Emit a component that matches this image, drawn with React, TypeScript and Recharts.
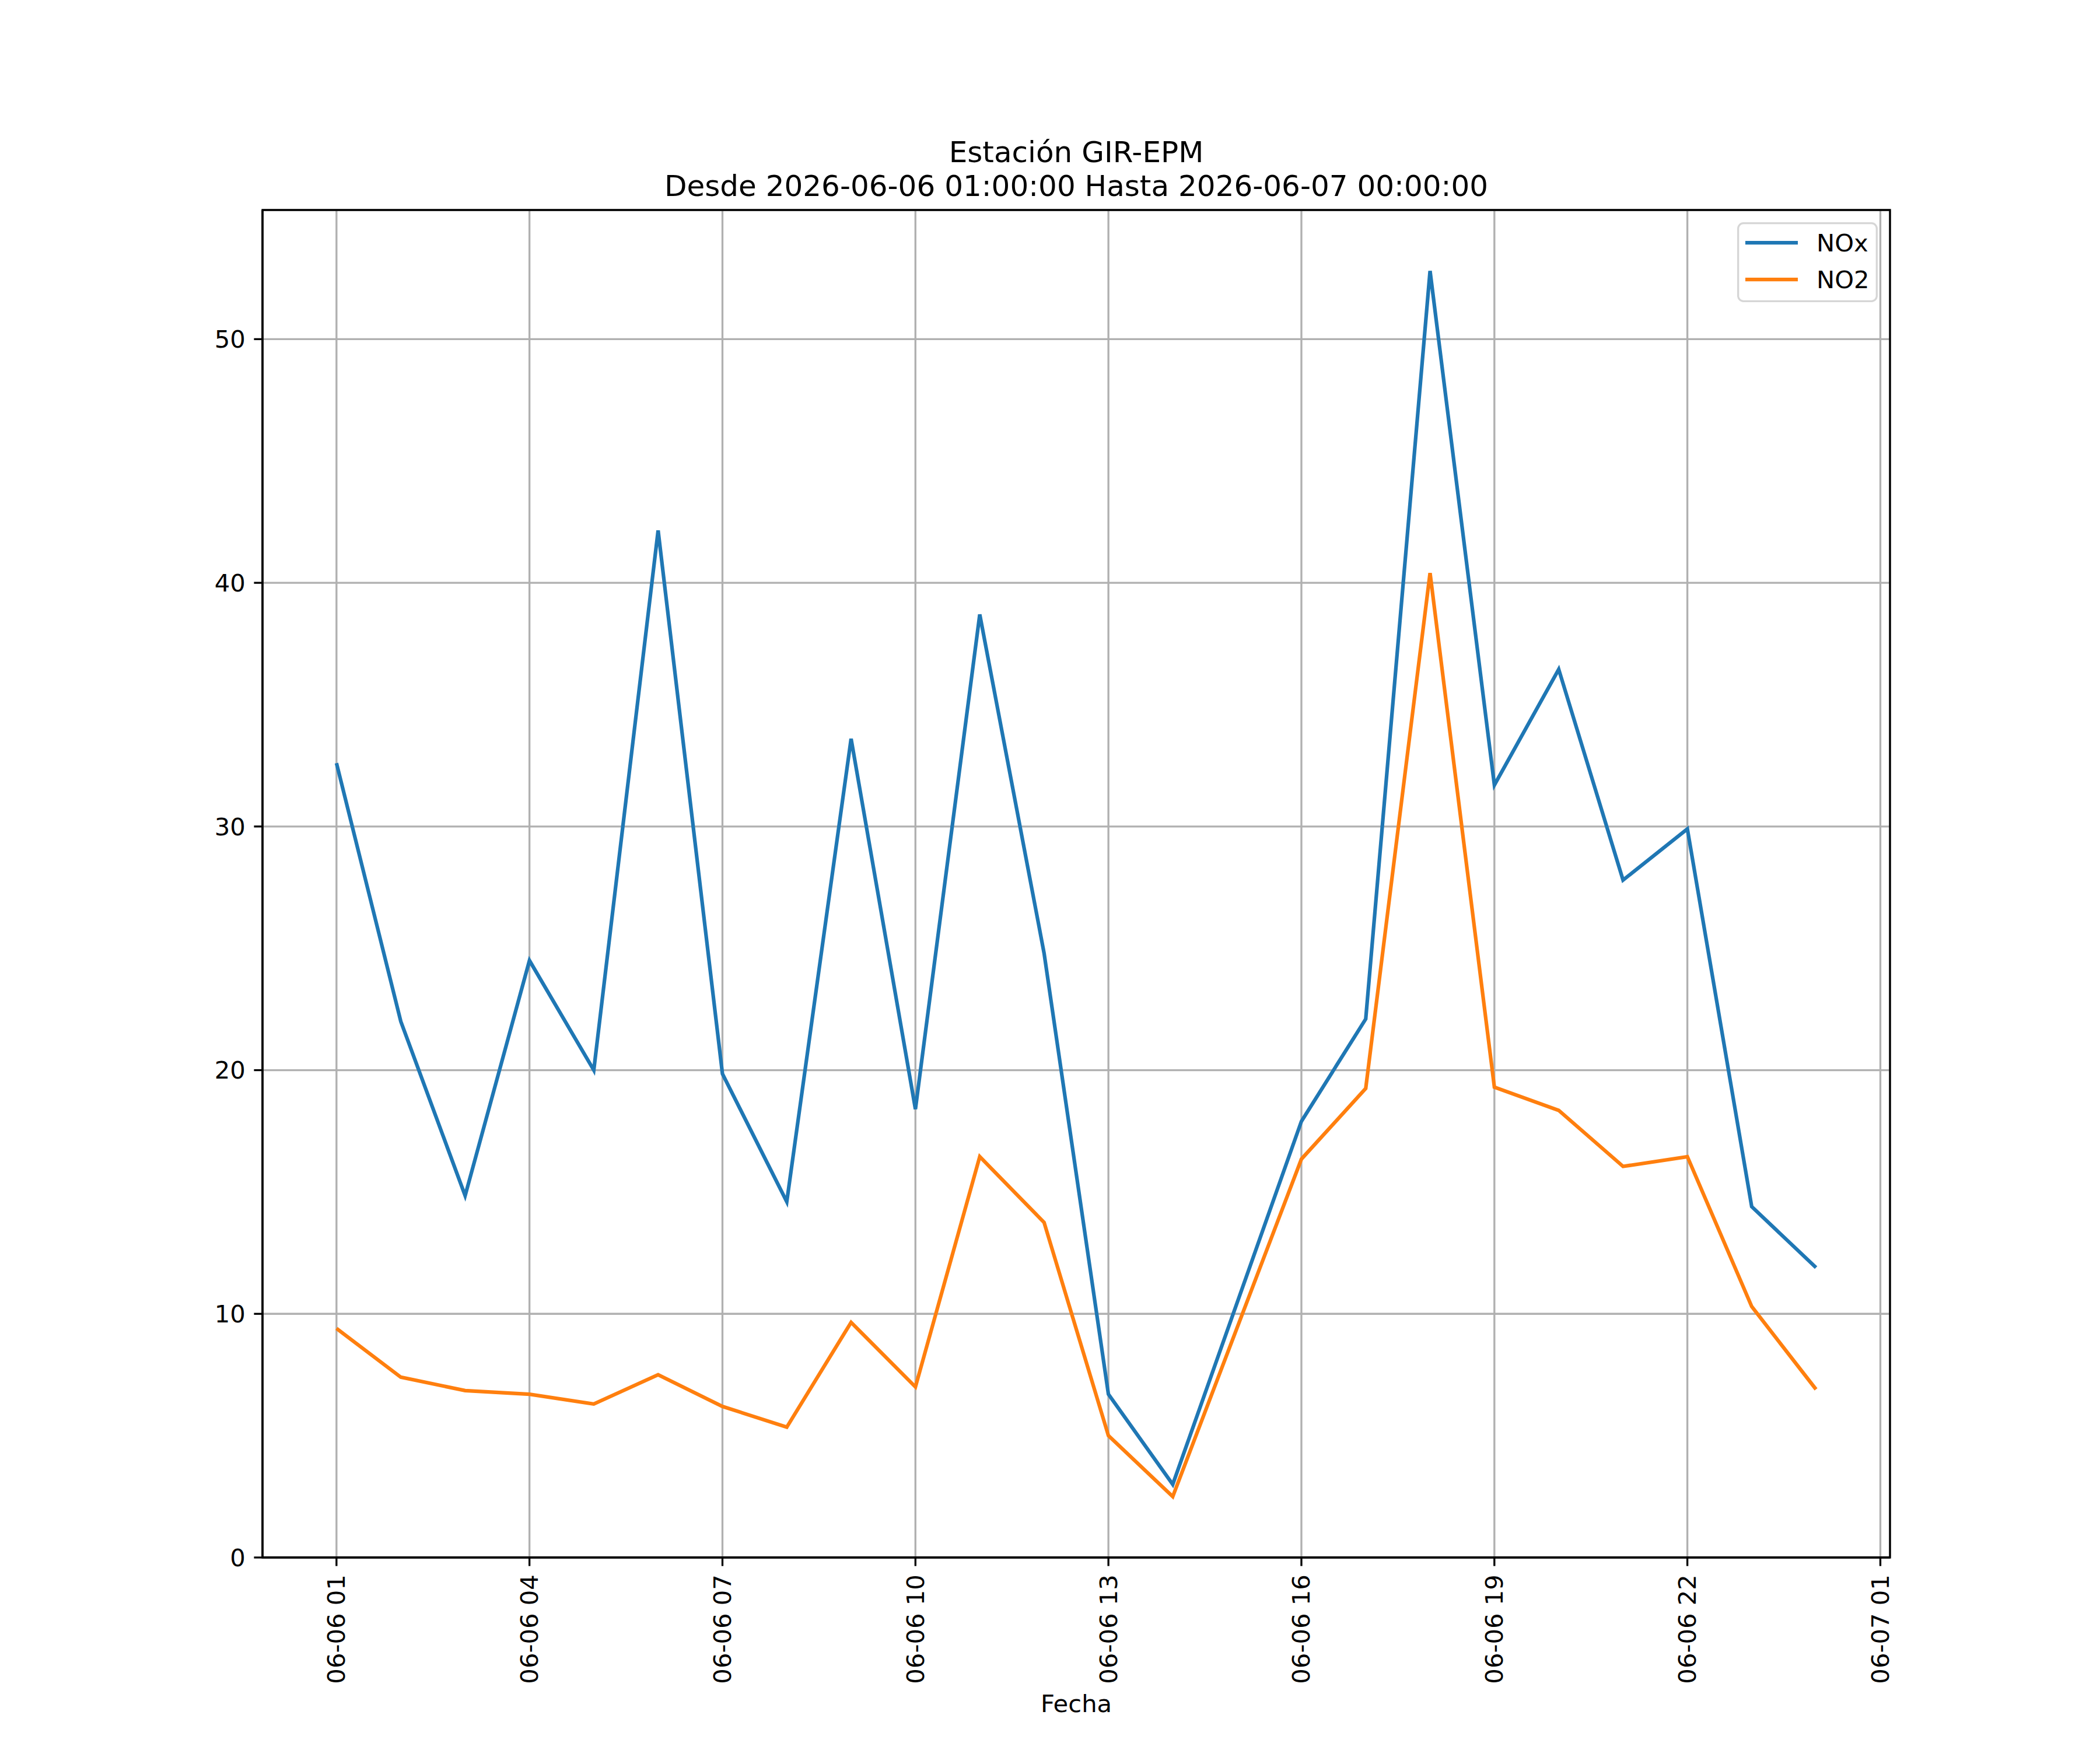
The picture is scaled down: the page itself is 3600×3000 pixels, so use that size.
import React from 'react';
import {
  LineChart,
  Line,
  XAxis,
  YAxis,
  CartesianGrid,
  Legend,
  ReferenceArea,
} from 'recharts';

// hour of day (06-07 00:00 is hour 24); no reading at hour 15
const hours = [1, 2, 3, 4, 5, 6, 7, 8, 9, 10, 11, 12, 13, 14, 16, 17, 18, 19, 20, 21, 22, 23, 24];
const noxValues = [32.6, 22.0, 14.85, 24.5, 20.0, 42.15, 19.85, 14.6, 33.6, 18.4, 38.7, 24.8, 6.7, 3.0, 17.9, 22.1, 52.8, 31.7, 36.45, 27.8, 29.9, 14.4, 11.9];
const no2Values = [9.4, 7.4, 6.85, 6.7, 6.3, 7.5, 6.2, 5.35, 9.65, 7.0, 16.45, 13.75, 5.0, 2.5, 16.35, 19.25, 40.4, 19.3, 18.35, 16.05, 16.45, 10.3, 6.9];

const xTicks = [1, 4, 7, 10, 13, 16, 19, 22, 25];
const xTickLabels = ['06-06 01', '06-06 04', '06-06 07', '06-06 10', '06-06 13', '06-06 16', '06-06 19', '06-06 22', '06-07 01'];
const yTicks = [0, 10, 20, 30, 40, 50];

const seriesNames = ['NOx', 'NO2'];
const seriesColors = ['#1f77b4', '#ff7f0e'];

const titleLines = ['Estación GIR-EPM', 'Desde 2026-06-06 01:00:00 Hasta 2026-06-07 00:00:00'];
const xLabel = 'Fecha';

const FONT = 'DejaVu Sans, sans-serif';
const FS = 41.7;
const W = 3600;
const H = 3000;
// plot box (matplotlib default subplot params)
const PL = 450, PR = 3240, PT = 360, PB = 2670;
const Y_AX_W = 200;
const X_AX_H = 260;

const data = hours.map((h, i) => ({ hour: h, NOx: noxValues[i], NO2: no2Values[i] }));

const XTick = (props: any) => {
  const { x, y, payload } = props;
  const idx = xTicks.indexOf(payload.value);
  return (
    <text
      x={x}
      y={y}
      transform={`rotate(-90, ${x}, ${y})`}
      textAnchor="end"
      dominantBaseline="central"
      fontFamily={FONT}
      fontSize={FS}
      fill="#000"
    >
      {idx >= 0 ? xTickLabels[idx] : ''}
    </text>
  );
};

const LegendBox = () => {
  const bw = 241, bh = 137;
  return (
    <svg width={bw} height={bh} style={{ display: 'block' }}>
      <rect x={1.7} y={1.7} width={bw - 3.4} height={bh - 3.4} rx={9} ry={9}
        fill="rgba(255,255,255,0.8)" stroke="#d6d6d6" strokeWidth={3.3} />
      {seriesNames.map((name, i) => {
        const cy = 35 + i * 63;
        return (
          <g key={name}>
            <line x1={14} x2={104} y1={cy} y2={cy} stroke={seriesColors[i]} strokeWidth={6.25} />
            <text x={136} y={cy} dominantBaseline="central" fontFamily={FONT} fontSize={FS} fill="#000">
              {name}
            </text>
          </g>
        );
      })}
    </svg>
  );
};

export default function App() {
  const cx = (PL + PR) / 2;
  return (
    <div style={{ position: 'absolute', left: 0, top: 0, width: W, height: H, background: '#fff' }}>
      <LineChart
        width={W}
        height={H}
        data={data}
        margin={{ top: PT, right: W - PR, bottom: H - PB - X_AX_H, left: PL - Y_AX_W }}
      >
        <CartesianGrid stroke="#b0b0b0" strokeWidth={3.33} />
        <XAxis
          dataKey="hour"
          type="number"
          domain={[-0.15, 25.15]}
          ticks={xTicks}
          allowDataOverflow
          height={X_AX_H}
          tickSize={14.6}
          tickMargin={14.6}
          tickLine={{ stroke: '#000', strokeWidth: 3.33 }}
          axisLine={{ stroke: '#000', strokeWidth: 3.33 }}
          tick={<XTick />}
          interval={0}
        />
        <YAxis
          type="number"
          domain={[0, 55.3]}
          ticks={yTicks}
          allowDataOverflow
          width={Y_AX_W}
          tickSize={14.6}
          tickMargin={14.6}
          tickLine={{ stroke: '#000', strokeWidth: 3.33 }}
          axisLine={{ stroke: '#000', strokeWidth: 3.33 }}
          tick={{ fill: '#000', fontSize: FS, fontFamily: FONT }}
          interval={0}
        />
        <ReferenceArea
          x1={-0.15}
          x2={25.15}
          y1={0}
          y2={55.3}
          fill="none"
          fillOpacity={0}
          stroke="#000"
          strokeWidth={3.33}
          ifOverflow="visible"
        />
        {seriesNames.map((name, i) => (
          <Line
            key={name}
            type="linear"
            dataKey={name}
            stroke={seriesColors[i]}
            strokeWidth={6.25}
            dot={false}
            activeDot={false}
            isAnimationActive={false}
          />
        ))}
        <Legend
          content={<LegendBox />}
          layout="horizontal"
          align="center"
          verticalAlign="middle"
          wrapperStyle={{ left: 2978, top: 381, width: 241, height: 137 }}
        />
        <text x={cx} y={278} textAnchor="middle" fontFamily={FONT} fontSize={50} fill="#000">
          {titleLines[0]}
        </text>
        <text x={cx} y={336} textAnchor="middle" fontFamily={FONT} fontSize={50} fill="#000">
          {titleLines[1]}
        </text>
        <text x={cx} y={2935} textAnchor="middle" fontFamily={FONT} fontSize={FS} fill="#000">
          {xLabel}
        </text>
      </LineChart>
    </div>
  );
}
